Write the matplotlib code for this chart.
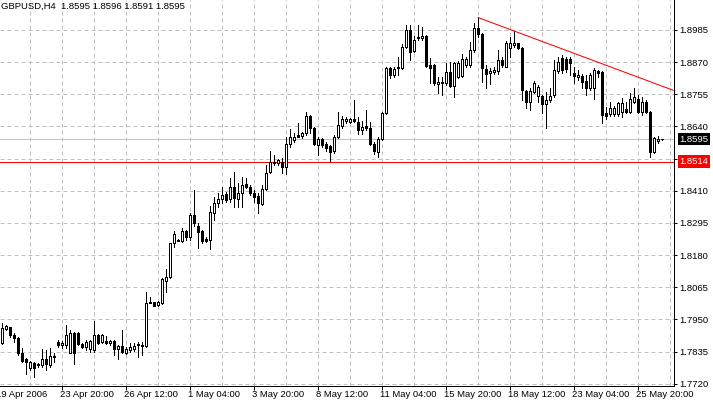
import matplotlib
matplotlib.use('Agg')
import matplotlib.pyplot as plt
from matplotlib import transforms

# GBPUSD H4 candles (one per bar, oldest first)
opens = [
    1.7864, 1.7917, 1.7922, 1.7894, 1.7882, 1.7831, 1.7807, 1.7777, 1.7795, 1.7788,
    1.7787, 1.7807, 1.7787, 1.7819, 1.7870, 1.7857, 1.7858, 1.7831, 1.7902, 1.7902,
    1.7862, 1.7852, 1.7843, 1.7840, 1.7894, 1.7870, 1.7874, 1.7864, 1.7872, 1.7845,
    1.7855, 1.7831, 1.7840, 1.7845, 1.7861, 1.7856, 1.7856, 1.8013, 1.8011, 1.8001,
    1.8009, 1.8088, 1.8100, 1.8224, 1.8234, 1.8230, 1.8267, 1.8246, 1.8323, 1.8284,
    1.8266, 1.8237, 1.8234, 1.8332, 1.8365, 1.8379, 1.8397, 1.8379, 1.8422, 1.8379,
    1.8401, 1.8434, 1.8422, 1.8403, 1.8391, 1.8363, 1.8415, 1.8478, 1.8514, 1.8508,
    1.8514, 1.8494, 1.8576, 1.8592, 1.8609, 1.8606, 1.8616, 1.8677, 1.8633, 1.8574,
    1.8594, 1.8577, 1.8570, 1.8553, 1.8603, 1.8643, 1.8660, 1.8657, 1.8667, 1.8657,
    1.8627, 1.8643, 1.8636, 1.8576, 1.8550, 1.8595, 1.8687, 1.8848, 1.8824, 1.8848,
    1.8850, 1.8925, 1.8985, 1.8910, 1.8955, 1.8955, 1.8965, 1.8860, 1.8860, 1.8791,
    1.8794, 1.8794, 1.8836, 1.8785, 1.8818, 1.8820, 1.8860, 1.8860, 1.8913, 1.8991,
    1.8971, 1.8844, 1.8830, 1.8836, 1.8839, 1.8878, 1.8854, 1.8920, 1.8931, 1.8937,
    1.8920, 1.8767, 1.8729, 1.8764, 1.8749, 1.8749, 1.8720, 1.8735, 1.8752, 1.8840,
    1.8885, 1.8880, 1.8880, 1.8830, 1.8816, 1.8820, 1.8804, 1.8776, 1.8776, 1.8840,
    1.8836, 1.8689, 1.8685, 1.8685, 1.8685, 1.8693, 1.8701, 1.8693, 1.8729, 1.8737,
    1.8693, 1.8729, 1.8693, 1.8550, 1.8587, 1.8595,
]
highs = [
    1.7936, 1.7930, 1.7924, 1.7902, 1.7888, 1.7846, 1.7811, 1.7802, 1.7799, 1.7795,
    1.7843, 1.7840, 1.7846, 1.7829, 1.7876, 1.7874, 1.7930, 1.7912, 1.7906, 1.7906,
    1.7866, 1.7876, 1.7876, 1.7945, 1.7898, 1.7898, 1.7890, 1.7876, 1.7876, 1.7858,
    1.7912, 1.7852, 1.7864, 1.7866, 1.7870, 1.7870, 1.8048, 1.8031, 1.8013, 1.8017,
    1.8097, 1.8129, 1.8224, 1.8267, 1.8236, 1.8276, 1.8269, 1.8332, 1.8413, 1.8296,
    1.8269, 1.8243, 1.8355, 1.8387, 1.8403, 1.8425, 1.8407, 1.8455, 1.8478, 1.8437,
    1.8460, 1.8455, 1.8430, 1.8413, 1.8401, 1.8430, 1.8502, 1.8553, 1.8538, 1.8522,
    1.8526, 1.8601, 1.8630, 1.8616, 1.8653, 1.8621, 1.8693, 1.8681, 1.8639, 1.8601,
    1.8598, 1.8585, 1.8574, 1.8609, 1.8693, 1.8678, 1.8675, 1.8671, 1.8735, 1.8675,
    1.8660, 1.8699, 1.8657, 1.8583, 1.8603, 1.8691, 1.8854, 1.8854, 1.8854, 1.8889,
    1.8934, 1.9003, 1.9003, 1.8965, 1.9003, 1.8997, 1.8967, 1.8884, 1.8862, 1.8818,
    1.8818, 1.8866, 1.8872, 1.8872, 1.8875, 1.8899, 1.8890, 1.8943, 1.9009, 1.9030,
    1.8975, 1.8860, 1.8848, 1.8854, 1.8913, 1.8889, 1.8947, 1.8961, 1.8982, 1.8940,
    1.8923, 1.8770, 1.8776, 1.8804, 1.8788, 1.8752, 1.8764, 1.8776, 1.8878, 1.8890,
    1.8896, 1.8889, 1.8889, 1.8854, 1.8842, 1.8828, 1.8824, 1.8830, 1.8848, 1.8842,
    1.8839, 1.8711, 1.8729, 1.8713, 1.8729, 1.8741, 1.8729, 1.8759, 1.8776, 1.8752,
    1.8746, 1.8735, 1.8696, 1.8603, 1.8606, 1.8596,
]
lows = [
    1.7862, 1.7912, 1.7888, 1.7870, 1.7821, 1.7797, 1.7755, 1.7769, 1.7745, 1.7781,
    1.7781, 1.7769, 1.7781, 1.7799, 1.7852, 1.7846, 1.7846, 1.7829, 1.7789, 1.7858,
    1.7846, 1.7840, 1.7834, 1.7834, 1.7862, 1.7866, 1.7862, 1.7858, 1.7822, 1.7807,
    1.7829, 1.7826, 1.7834, 1.7838, 1.7816, 1.7822, 1.7852, 1.8007, 1.7998, 1.7998,
    1.8005, 1.8049, 1.8097, 1.8208, 1.8230, 1.8228, 1.8233, 1.8233, 1.8284, 1.8204,
    1.8222, 1.8228, 1.8201, 1.8305, 1.8353, 1.8365, 1.8371, 1.8371, 1.8353, 1.8353,
    1.8353, 1.8419, 1.8395, 1.8371, 1.8332, 1.8359, 1.8412, 1.8475, 1.8502, 1.8502,
    1.8472, 1.8470, 1.8565, 1.8585, 1.8601, 1.8598, 1.8609, 1.8618, 1.8574, 1.8538,
    1.8568, 1.8553, 1.8518, 1.8546, 1.8598, 1.8636, 1.8651, 1.8651, 1.8655, 1.8612,
    1.8612, 1.8627, 1.8574, 1.8540, 1.8532, 1.8592, 1.8684, 1.8812, 1.8818, 1.8824,
    1.8846, 1.8922, 1.8878, 1.8905, 1.8949, 1.8949, 1.8854, 1.8794, 1.8788, 1.8759,
    1.8752, 1.8788, 1.8782, 1.8744, 1.8812, 1.8818, 1.8854, 1.8854, 1.8907, 1.8961,
    1.8800, 1.8776, 1.8792, 1.8828, 1.8828, 1.8852, 1.8852, 1.8889, 1.8925, 1.8916,
    1.8735, 1.8705, 1.8699, 1.8759, 1.8729, 1.8687, 1.8633, 1.8729, 1.8746, 1.8832,
    1.8831, 1.8835, 1.8824, 1.8794, 1.8806, 1.8776, 1.8752, 1.8770, 1.8737, 1.8818,
    1.8651, 1.8666, 1.8677, 1.8677, 1.8677, 1.8675, 1.8687, 1.8687, 1.8723, 1.8687,
    1.8681, 1.8687, 1.8530, 1.8546, 1.8580, 1.8591,
]
closes = [
    1.7918, 1.7926, 1.7894, 1.7882, 1.7829, 1.7802, 1.7799, 1.7799, 1.7777, 1.7789,
    1.7807, 1.7790, 1.7819, 1.7814, 1.7858, 1.7866, 1.7894, 1.7902, 1.7831, 1.7862,
    1.7852, 1.7870, 1.7874, 1.7894, 1.7866, 1.7894, 1.7864, 1.7873, 1.7844, 1.7855,
    1.7834, 1.7843, 1.7850, 1.7855, 1.7857, 1.7860, 1.8009, 1.8009, 1.7999, 1.8011,
    1.8093, 1.8103, 1.8222, 1.8255, 1.8232, 1.8266, 1.8246, 1.8323, 1.8294, 1.8264,
    1.8231, 1.8231, 1.8333, 1.8367, 1.8379, 1.8395, 1.8377, 1.8422, 1.8383, 1.8401,
    1.8431, 1.8422, 1.8401, 1.8389, 1.8365, 1.8415, 1.8475, 1.8514, 1.8508, 1.8520,
    1.8494, 1.8576, 1.8601, 1.8601, 1.8603, 1.8616, 1.8677, 1.8633, 1.8577, 1.8594,
    1.8574, 1.8564, 1.8550, 1.8601, 1.8645, 1.8667, 1.8667, 1.8667, 1.8660, 1.8627,
    1.8639, 1.8636, 1.8576, 1.8552, 1.8595, 1.8687, 1.8848, 1.8824, 1.8846, 1.8854,
    1.8925, 1.8985, 1.8907, 1.8949, 1.8961, 1.8964, 1.8857, 1.8850, 1.8794, 1.8800,
    1.8800, 1.8835, 1.8785, 1.8868, 1.8868, 1.8880, 1.8880, 1.8913, 1.8991, 1.8971,
    1.8848, 1.8828, 1.8839, 1.8842, 1.8878, 1.8860, 1.8940, 1.8937, 1.8937, 1.8920,
    1.8770, 1.8729, 1.8767, 1.8794, 1.8780, 1.8720, 1.8735, 1.8749, 1.8842, 1.8872,
    1.8842, 1.8845, 1.8866, 1.8820, 1.8824, 1.8800, 1.8776, 1.8824, 1.8842, 1.8830,
    1.8681, 1.8677, 1.8705, 1.8705, 1.8723, 1.8725, 1.8693, 1.8737, 1.8746, 1.8693,
    1.8729, 1.8693, 1.8550, 1.8598, 1.8595, 1.8595,
]

title = "GBPUSD,H4  1.8595 1.8596 1.8591 1.8595"
price_ticks = [1.7720, 1.7835, 1.7950, 1.8065, 1.8180, 1.8295, 1.8410,
               1.8525, 1.8640, 1.8755, 1.8870, 1.8985]
# 1.8525 is hidden under the red level box in the original
price_labels = ["1.7720", "1.7835", "1.7950", "1.8065", "1.8180", "1.8295", "1.8410",
                "", "1.8640", "1.8755", "1.8870", "1.8985"]
date_bars = [-1, 15, 31, 47, 63, 79, 95, 111, 127, 143, 159]
date_labels = ["19 Apr 2006", "23 Apr 20:00", "26 Apr 12:00", "1 May 04:00",
               "3 May 20:00", "8 May 12:00", "11 May 04:00", "15 May 20:00",
               "18 May 12:00", "23 May 04:00", "25 May 20:00"]
bid_price = 1.8595
level_price = 1.8514
trend_bars = [119, 128]
trend_prices = [1.9030, 1.8982]

plt.rcParams['font.family'] = ['Liberation Sans', 'DejaVu Sans']
fs = 6.8

fig = plt.figure(figsize=(7.13, 4.04), dpi=100)
ax = fig.add_axes([0, 1 - 386 / 404, 673.7 / 713, 386 / 404])
ax.set_xlim(-0.425, 168.0)
ax.set_ylim(1.77116, 1.90923)

# grid
grid_style = dict(color='#c0c0c0', lw=0.72, ls=(0, (4, 3)), zorder=1)
for p in price_ticks:
    ax.axhline(p, **grid_style)
for k in range(-1, 169, 8):
    ax.axvline(k, **grid_style)

ax.axhline(bid_price, color='#c0c0c0', lw=0.72, zorder=1.5)
ax.axhline(level_price, color='red', lw=0.72, zorder=1.5)

# candles
bars = list(range(len(opens)))
ax.vlines(bars, lows, highs, color='black', lw=0.72, antialiased=False, zorder=3)
bottoms = [min(o, c) for o, c in zip(opens, closes)]
heights = [abs(c - o) for o, c in zip(opens, closes)]
colors = ['white' if c >= o else 'black' for o, c in zip(opens, closes)]
ax.bar(bars, heights, width=0.5, bottom=bottoms, color=colors,
       edgecolor='black', linewidth=0.72, antialiased=False, zorder=4)

# trend line (ray to the right edge)
slope = (trend_prices[1] - trend_prices[0]) / (trend_bars[1] - trend_bars[0])
x_end = ax.get_xlim()[1]
ax.plot([trend_bars[0], x_end],
        [trend_prices[0], trend_prices[0] + slope * (x_end - trend_bars[0])],
        color='red', lw=0.75, zorder=5, solid_capstyle='butt')

# axes look
for s in ['top', 'left']:
    ax.spines[s].set_visible(False)
for s in ['right', 'bottom']:
    ax.spines[s].set_linewidth(0.72)
    ax.spines[s].set_color('black')

ax.set_yticks(price_ticks, labels=price_labels)
ax.tick_params(axis='y', left=False, right=True, labelleft=False, labelright=True,
               length=2.2, width=0.72, pad=1.8, labelsize=fs)
ax.set_xticks(date_bars[1:])
ax.tick_params(axis='x', length=3, width=0.72, labelbottom=False)

xtrans = transforms.blended_transform_factory(ax.transData, ax.transAxes)
for b, lab in zip(date_bars, date_labels):
    ax.text(b - 0.3, -0.011, lab, transform=xtrans, ha='left', va='top',
            fontsize=fs, clip_on=False)

ax.text(0.0015, 1 - 2 / 386, title, transform=ax.transAxes, ha='left', va='top',
        fontsize=fs, zorder=6)

ytrans = transforms.blended_transform_factory(ax.transAxes, ax.transData)
ax.text(1.0083, bid_price, '%.4f' % bid_price, transform=ytrans, ha='left', va='center',
        color='white', fontsize=fs, clip_on=False, zorder=10,
        bbox=dict(boxstyle='square,pad=0.18', fc='black', ec='none'))
ax.text(1.0083, level_price, '%.4f' % level_price, transform=ytrans, ha='left', va='center',
        color='white', fontsize=fs, clip_on=False, zorder=10,
        bbox=dict(boxstyle='square,pad=0.18', fc='red', ec='none'))

fig.savefig('out.png', dpi=100)
